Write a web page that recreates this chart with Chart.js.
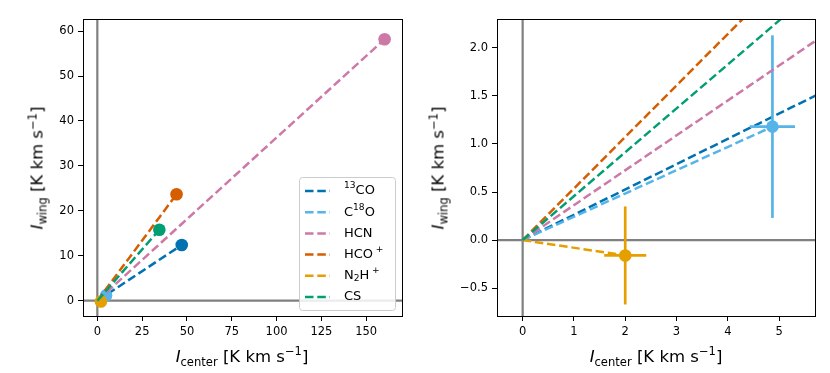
<!DOCTYPE html>
<html>
<head>
<meta charset="utf-8">
<script src="https://cdn.jsdelivr.net/npm/chart.js@4/dist/chart.umd.min.js"></script>
<style>
  body { margin: 0; background: #fff; width: 830px; height: 373px; position: relative; overflow: hidden;
         font-family: "DejaVu Sans", sans-serif; }
  canvas { position: absolute; top: 0; }
  .lab { position: absolute; font-size: 16.5px; white-space: nowrap; color: #000;
         transform: translate(-50%, -50%); }
  .lab.rot { transform: translate(-50%, -50%) rotate(-90deg); }
  .lab i { font-style: italic; }
  .lab sub, .lab sup { font-size: 70%; line-height: 0; }
</style>
</head>
<body>
<canvas id="left" width="415" height="373" style="left:0"></canvas>
<canvas id="right" width="415" height="373" style="left:415px"></canvas>

<div class="lab" style="left:242px;top:356px"><i>I</i><sub>center</sub> [K km s<sup>−1</sup>]</div>
<div class="lab rot" style="left:37px;top:168px"><i>I</i><sub>wing</sub> [K km s<sup>−1</sup>]</div>
<div class="lab" style="left:656px;top:356px"><i>I</i><sub>center</sub> [K km s<sup>−1</sup>]</div>
<div class="lab rot" style="left:438px;top:168px"><i>I</i><sub>wing</sub> [K km s<sup>−1</sup>]</div>

<script>
// data
const species = ["13CO", "C18O", "HCN", "HCO+", "N2H+", "CS"];
const legendLabels = ["^{13}CO", "C^{18}O", "HCN", "HCO^{+}", "N_{2}H^{+}", "CS"];
const colors = ["#0072B2", "#56B4E9", "#CC79A7", "#D55E00", "#E69F00", "#009E73"];
const iCenter = [47.1, 4.87, 160.3, 44.2, 2.0, 34.6];
const iWing = [12.4, 1.18, 58.2, 23.7, -0.16, 15.8];
const errCenter = [0.6, 0.44, 0.8, 0.6, 0.41, 0.5];
const errWing = [0.9, 0.95, 1.1, 0.9, 0.51, 0.8];

const xTicksLeft = [0, 25, 50, 75, 100, 125, 150];
const yTicksLeft = [0, 10, 20, 30, 40, 50, 60];
const xTicksRight = [0, 1, 2, 3, 4, 5];
const yTicksRight = [-0.5, 0, 0.5, 1, 1.5, 2];

const FONT = "DejaVu Sans";
const DASH = [8.5, 3.8];

// datasets: fit line through origin, error bars, marker
function buildDatasets() {
  const sets = [];
  species.forEach((name, i) => {
    sets.push({ label: name + " fit", data: [{x: 0, y: 0}, {x: iCenter[i], y: iWing[i]}],
      showLine: true, borderColor: colors[i], borderWidth: 2.5, borderDash: DASH,
      pointRadius: 0, fill: false });
    sets.push({ label: name + " xerr", data: [{x: iCenter[i] - errCenter[i], y: iWing[i]}, {x: iCenter[i] + errCenter[i], y: iWing[i]}],
      showLine: true, borderColor: colors[i], borderWidth: 2.7, pointRadius: 0 });
    sets.push({ label: name + " yerr", data: [{x: iCenter[i], y: iWing[i] - errWing[i]}, {x: iCenter[i], y: iWing[i] + errWing[i]}],
      showLine: true, borderColor: colors[i], borderWidth: 2.7, pointRadius: 0 });
    sets.push({ label: name, data: [{x: iCenter[i], y: iWing[i]}],
      showLine: false, backgroundColor: colors[i], borderColor: colors[i], pointRadius: 6.3, pointBorderWidth: 0 });
  });
  const n = sets.length;
  sets.forEach((s, k) => { s.order = n - k; });
  return sets;
}

function parseRich(s) {
  const out = [];
  const re = /([_^])\{([^}]*)\}|([^_^]+)/g;
  let m;
  while ((m = re.exec(s))) {
    if (m[3]) out.push({t: m[3], k: 0});
    else out.push({t: m[2], k: m[1] === "^" ? 1 : -1});
  }
  return out;
}

function drawRich(ctx, str, x, y, size) {
  ctx.textBaseline = "middle";
  ctx.textAlign = "left";
  parseRich(str).forEach(seg => {
    const fs = seg.k ? size * 0.7 : size;
    const dy = seg.k === 1 ? -size * 0.38 : seg.k === -1 ? size * 0.25 : 0;
    ctx.font = fs + "px '" + FONT + "'";
    if (seg.t === "+") x += size * 0.2;
    ctx.fillText(seg.t, x, y + dy);
    x += ctx.measureText(seg.t).width;
  });
}

const axesDeco = {
  id: "axesDeco",
  beforeDatasetsDraw(chart) {
    const {ctx, chartArea: a, scales} = chart;
    const x0 = scales.x.getPixelForValue(0), y0 = scales.y.getPixelForValue(0);
    ctx.save();
    ctx.beginPath();
    ctx.rect(a.left, a.top, a.right - a.left, a.bottom - a.top);
    ctx.clip();
    ctx.strokeStyle = "#808080";
    ctx.lineWidth = 2.2;
    ctx.beginPath();
    ctx.moveTo(x0, a.top); ctx.lineTo(x0, a.bottom);
    ctx.moveTo(a.left, y0); ctx.lineTo(a.right, y0);
    ctx.stroke();
    ctx.restore();
  },
  afterDatasetsDraw(chart) {
    const {ctx, chartArea: a} = chart;
    ctx.save();
    ctx.strokeStyle = "#000";
    ctx.lineWidth = 1;
    ctx.strokeRect(Math.round(a.left) + 0.5, Math.round(a.top) + 0.5,
      Math.round(a.right - a.left), Math.round(a.bottom - a.top));
    ctx.restore();
  }
};

const legendBox = {
  id: "legendBox",
  afterDraw(chart) {
    const {ctx, chartArea: a} = chart;
    const w = 96, h = 133;
    const bx = a.right - 7 - w, by = a.bottom - 6 - h;
    ctx.save();
    ctx.fillStyle = "rgba(255,255,255,0.85)";
    ctx.strokeStyle = "#cccccc";
    ctx.lineWidth = 1;
    ctx.beginPath();
    ctx.roundRect(bx + 0.5, by + 0.5, w, h, 3);
    ctx.fill();
    ctx.stroke();
    legendLabels.forEach((lab, i) => {
      const y = by + 14 + i * 21.2;
      ctx.strokeStyle = colors[i];
      ctx.lineWidth = 2.5;
      ctx.setLineDash(DASH);
      ctx.beginPath();
      ctx.moveTo(bx + 6, y); ctx.lineTo(bx + 31, y);
      ctx.stroke();
      ctx.setLineDash([]);
      ctx.fillStyle = "#000";
      drawRich(ctx, lab, bx + 45, y, 13);
    });
    ctx.restore();
  }
};

function fmt(v, dec) {
  return v.toFixed(dec).replace("-", "\u2212");
}

function makeChart(id, xr, yr, xTicks, yTicks, dec, yWidth, padRight, plugins) {
  const tickFont = {family: FONT, size: 11.5};
  const common = {
    grid: {drawOnChartArea: false, drawTicks: true, tickLength: 5, tickColor: "#000", tickWidth: 1},
    border: {display: true, color: "#000", width: 1},
    ticks: {color: "#000", font: tickFont, padding: 4}
  };
  return new Chart(document.getElementById(id), {
    type: "scatter",
    data: {datasets: buildDatasets()},
    options: {
      responsive: false,
      animation: false,
      devicePixelRatio: 1,
      layout: {padding: {left: 0, top: 19, right: padRight, bottom: 0}},
      plugins: {legend: {display: false}, tooltip: {enabled: false}},
      scales: {
        x: {type: "linear", min: xr[0], max: xr[1], ...common,
          ticks: {...common.ticks, maxRotation: 0, callback: v => fmt(v, 0)},
          afterBuildTicks: s => { s.ticks = xTicks.map(v => ({value: v})); },
          afterFit: s => { s.height = 57; }},
        y: {type: "linear", min: yr[0], max: yr[1], ...common,
          ticks: {...common.ticks, callback: v => fmt(v, dec)},
          afterBuildTicks: s => { s.ticks = yTicks.map(v => ({value: v})); },
          afterFit: s => { s.width = yWidth; }}
      }
    },
    plugins: plugins
  });
}

makeChart("left", [-8, 170], [-3.4, 62.7], xTicksLeft, yTicksLeft, 0, 83, 13, [axesDeco, legendBox]);
makeChart("right", [-0.5, 5.7], [-0.79, 2.30], xTicksRight, yTicksRight, 1, 82, 15, [axesDeco]);
</script>
</body>
</html>
